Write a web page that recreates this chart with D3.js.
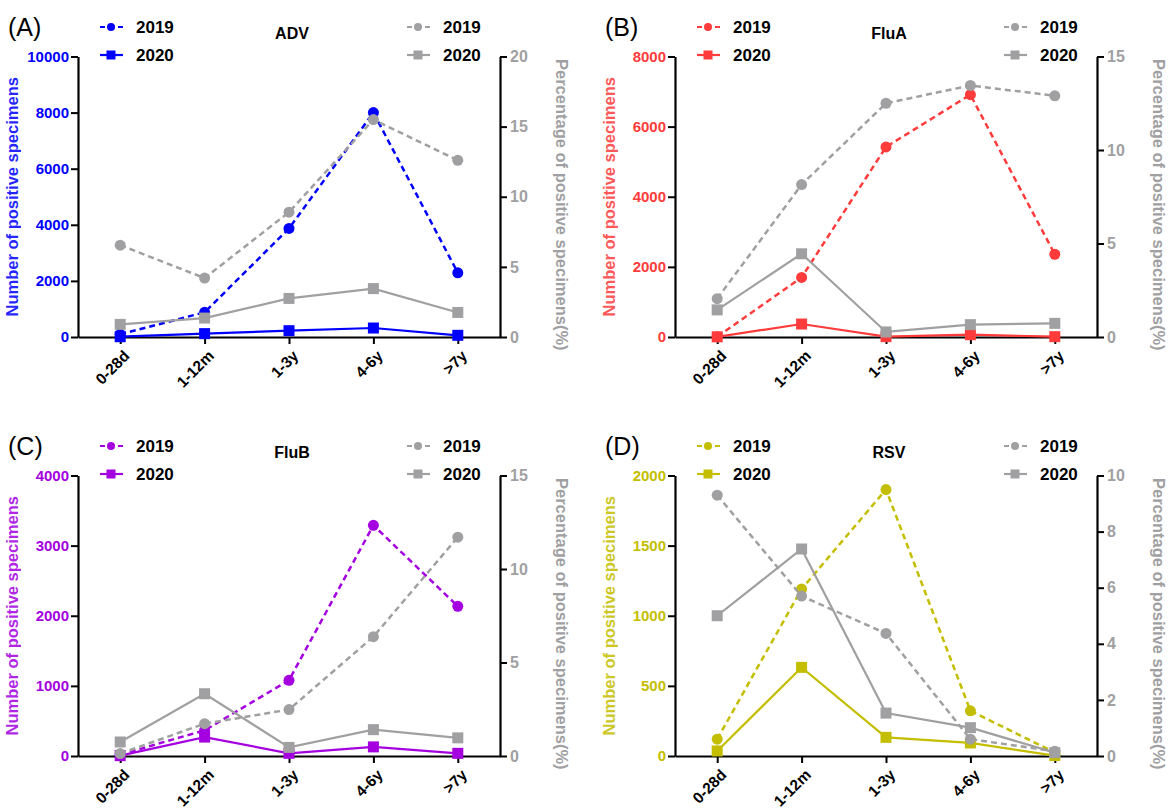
<!DOCTYPE html>
<html lang="en">
<head>
<meta charset="UTF-8">
<title>positive specimens by age group</title>
<script src="https://cdn.jsdelivr.net/npm/d3@7"></script>
<style>
    body{ margin:0; background:#fff; }
    svg{ font-family:"Liberation Sans", Arial, sans-serif; }
</style>
</head>
<body>
<svg id="fig" width="1169" height="811"></svg>
<script>
    let ageGroups = ["0-28d", "1-12m", "1-3y", "4-6y", ">7y"]

    // numbers of positive specimens (left axis)
    let advCount2019 = [95, 880, 3870, 8000, 2290]
    let advCount2020 = [10, 120, 225, 320, 60]
    let fluaCount2019 = [10, 1700, 5420, 6910, 2360]
    let fluaCount2020 = [5, 370, 10, 65, 10]
    let flubCount2019 = [20, 365, 1080, 3290, 2135]
    let flubCount2020 = [5, 270, 38, 130, 38]
    let rsvCount2019 = [120, 1190, 1900, 322, 25]
    let rsvCount2020 = [36, 632, 133, 93, 3]

    // percentage of positive specimens (right axis)
    let advPct2019 = [6.55, 4.2, 8.9, 15.5, 12.6]
    let advPct2020 = [0.9, 1.35, 2.75, 3.45, 1.75]
    let fluaPct2019 = [2.05, 8.15, 12.5, 13.45, 12.9]
    let fluaPct2020 = [1.45, 4.45, 0.27, 0.66, 0.73]
    let flubPct2019 = [0.13, 1.73, 2.48, 6.38, 11.7]
    let flubPct2020 = [0.75, 3.33, 0.46, 1.41, 0.97]
    let rsvPct2019 = [9.3, 5.7, 4.37, 0.6, 0.17]
    let rsvPct2020 = [5.0, 7.38, 1.53, 1.01, 0.12]

    let panelNames = ["ADV", "FluA", "FluB", "RSV"]
    let panelLetters = ["(A)", "(B)", "(C)", "(D)"]
    let countTicks = [
        [0, 2000, 4000, 6000, 8000, 10000],
        [0, 2000, 4000, 6000, 8000],
        [0, 1000, 2000, 3000, 4000],
        [0, 500, 1000, 1500, 2000]]
    let pctTicks = [
        [0, 5, 10, 15, 20],
        [0, 5, 10, 15],
        [0, 5, 10, 15],
        [0, 2, 4, 6, 8, 10]]
    let legendYears = ["2019", "2020"]

    let counts = [[advCount2019, advCount2020], [fluaCount2019, fluaCount2020],
                  [flubCount2019, flubCount2020], [rsvCount2019, rsvCount2020]]
    let pcts = [[advPct2019, advPct2020], [fluaPct2019, fluaPct2020],
                [flubPct2019, flubPct2020], [rsvPct2019, rsvPct2020]]

    let colors = ["#0000ff", "#ff3b3b", "#a400e0", "#c4be00"]
    let grey = "#a0a0a2"

    const W = 422, H = 280.5
    const origins = [[78, 56.5], [675, 56.5], [78, 475.5], [675, 475.5]]

    let svg = d3.select("#fig")

    function marker(sel, kind, cx, cy, size, color){
        if (kind === 0) {
            sel.append("circle").attr("cx", cx).attr("cy", cy).attr("r", size / 2).attr("fill", color)
        } else {
            sel.append("rect").attr("x", cx - size / 2).attr("y", cy - size / 2)
                .attr("width", size).attr("height", size).attr("fill", color)
        }
    }

    function legend(g, x0, color){
        legendYears.forEach((yr, k) => {
            let yy = -29.5 + k * 28
            g.append("line").attr("x1", x0).attr("x2", x0 + 23).attr("y1", yy).attr("y2", yy)
                .attr("stroke", color).attr("stroke-width", 2.2)
                .attr("stroke-dasharray", k === 0 ? "5,4" : null)
            marker(g, k, x0 + 11, yy, k === 0 ? 8 : 9, color)
            g.append("text").attr("x", x0 + 36).attr("y", yy).attr("dy", "0.36em")
                .attr("font-size", 17).attr("font-weight", "bold").attr("fill", "#000").text(yr)
        })
    }

    function drawPanel(i){
        let g = svg.append("g").attr("transform", `translate(${origins[i][0]},${origins[i][1]})`)
        let x = d3.scalePoint().domain(ageGroups).range([0, W]).padding(0.5)
        let yL = d3.scaleLinear().domain([0, d3.max(countTicks[i])]).range([H, 0])
        let yR = d3.scaleLinear().domain([0, d3.max(pctTicks[i])]).range([H, 0])
        let col = colors[i]

        // axes
        let ax = g.append("g").call(d3.axisLeft(yL).tickValues(countTicks[i]).tickSize(7)
            .tickSizeOuter(0).tickPadding(2).tickFormat(d3.format("d")))
        ax.selectAll("text").attr("fill", col).attr("font-size", 15).attr("font-weight", "bold")

        let axR = g.append("g").attr("transform", `translate(${W},0)`)
            .call(d3.axisRight(yR).tickValues(pctTicks[i]).tickSize(7).tickSizeOuter(0).tickPadding(3))
        axR.selectAll("text").attr("fill", grey).attr("font-size", 16).attr("font-weight", "bold")

        let axB = g.append("g").attr("transform", `translate(0,${H})`)
            .call(d3.axisBottom(x).tickSize(7).tickSizeOuter(0))
        axB.selectAll("text")
            .attr("x", 0).attr("y", 0).attr("dy", "0.35em")
            .attr("transform", "translate(6,16) rotate(-45)")
            .attr("text-anchor", "end")
            .attr("fill", "#000").attr("font-size", 15.5).attr("font-weight", "bold")

        g.selectAll(".domain").attr("stroke", "#000").attr("stroke-width", 2.2)
        g.selectAll(".tick line").attr("stroke", "#000").attr("stroke-width", 2)

        // axis titles
        g.append("text").attr("transform", `translate(-60,${H / 2}) rotate(-90)`)
            .attr("text-anchor", "middle").attr("font-size", 16.5).attr("font-weight", "bold")
            .attr("fill", col).attr("opacity", 0.85).text("Number of positive specimens")
        g.append("text").attr("transform", `translate(${W + 56},${H / 2 + 8}) rotate(90)`)
            .attr("text-anchor", "middle").attr("font-size", 16.5).attr("font-weight", "bold")
            .attr("fill", grey).text("Percentage of positive specimens(%)")

        // titles
        g.append("text").attr("x", 214).attr("y", -23.5).attr("dy", "0.36em")
            .attr("text-anchor", "middle").attr("font-size", 16).attr("font-weight", "bold")
            .text(panelNames[i])
        g.append("text").attr("x", -70).attr("y", -29.5).attr("dy", "0.36em")
            .attr("font-size", 25).text(panelLetters[i])

        legend(g, 22, col)
        legend(g, 329, grey)

        // series
        let series = [
            {vals: counts[i][0], y: yL, color: col, kind: 0},
            {vals: counts[i][1], y: yL, color: col, kind: 1},
            {vals: pcts[i][0], y: yR, color: grey, kind: 0},
            {vals: pcts[i][1], y: yR, color: grey, kind: 1}]

        series.forEach(s => {
            let line = d3.line().x((d, j) => x(ageGroups[j])).y(d => s.y(d))
            g.append("path").datum(s.vals).attr("d", line).attr("fill", "none")
                .attr("stroke", s.color).attr("stroke-width", s.kind === 0 ? 2.5 : 2.2)
                .attr("stroke-dasharray", s.kind === 0 ? "6,4" : null)
            let mg = g.append("g")
            s.vals.forEach((v, j) => marker(mg, s.kind, x(ageGroups[j]), s.y(v), 11, s.color))
        })
    }

    for (let i = 0; i < 4; i++) drawPanel(i)
</script>
</body>
</html>
